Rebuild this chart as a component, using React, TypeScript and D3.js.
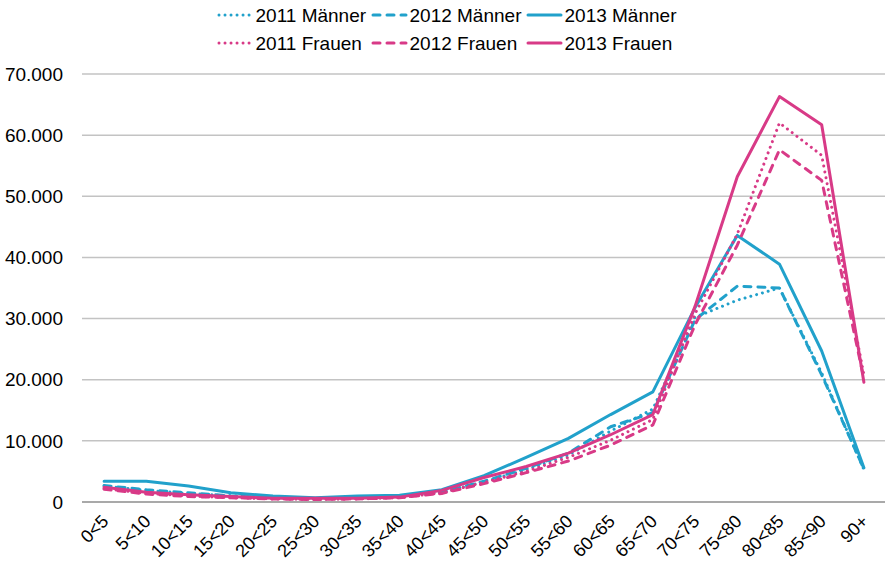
import React from "react";
import * as d3 from "d3";

const categories = ["0<5","5<10","10<15","15<20","20<25","25<30","30<35","35<40","40<45","45<50","50<55","55<60","60<65","65<70","70<75","75<80","80<85","85<90","90+"];
const yTicks = [0, 10000, 20000, 30000, 40000, 50000, 60000, 70000];

const m2011 = [2600, 1900, 1400, 1000, 700, 500, 700, 900, 1600, 3300, 5300, 7700, 11600, 15200, 30200, 33000, 35000, 21100, 5300];
const m2012 = [2700, 2000, 1500, 1000, 700, 500, 700, 900, 1600, 3400, 5500, 8000, 12300, 14600, 29800, 35300, 35000, 20800, 5400];
const m2013 = [3400, 3400, 2600, 1500, 1000, 700, 1000, 1100, 2000, 4300, 7300, 10400, 14300, 18000, 31800, 43600, 38900, 24700, 5600];
const f2011 = [2200, 1400, 1000, 700, 500, 400, 500, 700, 1500, 3200, 5000, 7300, 10100, 13500, 30800, 43800, 62000, 56700, 20800];
const f2012 = [2100, 1300, 900, 700, 500, 400, 500, 700, 1400, 3000, 4800, 6700, 9300, 12600, 29000, 42000, 57600, 52600, 20200];
const f2013 = [2400, 1600, 1200, 900, 600, 600, 600, 800, 1900, 4000, 5800, 8000, 11000, 14300, 32000, 53200, 66300, 61700, 19600];

const BLUE = "#21a1cb";
const PINK = "#d83a87";

const seriesNames = ["2011 Männer", "2012 Männer", "2013 Männer", "2011 Frauen", "2012 Frauen", "2013 Frauen"];
const seriesValues = [m2011, m2012, m2013, f2011, f2012, f2013];
const seriesColors = [BLUE, BLUE, BLUE, PINK, PINK, PINK];
const seriesDash = ["dot", "dash", "solid", "dot", "dash", "solid"];

const W = 885, H = 563;
const FONT = "'Liberation Sans', Arial, sans-serif";

function dashArray(kind: string) {
  if (kind === "dot") return "0.01 6";
  if (kind === "dash") return "7 7";
  return undefined;
}

export default function App() {
  const x = d3.scaleBand().domain(categories).range([83, 885]);
  const y = d3.scaleLinear().domain([0, 70000]).range([502, 74]);
  const cx = (c: string) => (x(c) as number) + x.bandwidth() / 2;
  const line = d3.line<number>().x((_, i) => cx(categories[i])).y((v) => y(v));
  const fmt = (v: number) => (v === 0 ? "0" : d3.format(",")(v).replace(/,/g, "."));

  const legendCols = [219, 373, 528];
  const legendRows = [15, 43];

  return (
    <svg width={W} height={H} style={{ position: "absolute", left: 0, top: 0, background: "#fff" }} fontFamily={FONT}>
      {yTicks.map((t) => (
        <g key={t}>
          <line x1={82} x2={885} y1={y(t)} y2={y(t)} stroke={t === 0 ? "#8c8c8c" : "#c3c3c3"} strokeWidth={1.5} />
          <text x={63} y={y(t)} dy="0.35em" textAnchor="end" fontSize={19} fill="#000">{fmt(t)}</text>
        </g>
      ))}
      {categories.map((c) => (
        <text key={c} transform={`translate(${cx(c) + 1},${518}) rotate(-45)`} textAnchor="end" dy="0.35em" fontSize={18} fill="#000">{c}</text>
      ))}
      {seriesValues.map((vals, i) => (
        <path key={seriesNames[i]} d={line(vals) as string} fill="none" stroke={seriesColors[i]} strokeWidth={3}
          strokeDasharray={dashArray(seriesDash[i])} strokeLinecap="round" strokeLinejoin="round" />
      ))}
      {seriesNames.map((n, i) => {
        const col = i % 3;
        const row = Math.floor(i / 3);
        const lx = legendCols[col];
        const ly = legendRows[row];
        return (
          <g key={n}>
            <line x1={lx} x2={lx + 33} y1={ly} y2={ly} stroke={seriesColors[i]} strokeWidth={3}
              strokeDasharray={dashArray(seriesDash[i])} strokeLinecap="round" />
            <text x={lx + 36.5} y={ly} dy="0.35em" fontSize={19} fill="#000">{n}</text>
          </g>
        );
      })}
    </svg>
  );
}
